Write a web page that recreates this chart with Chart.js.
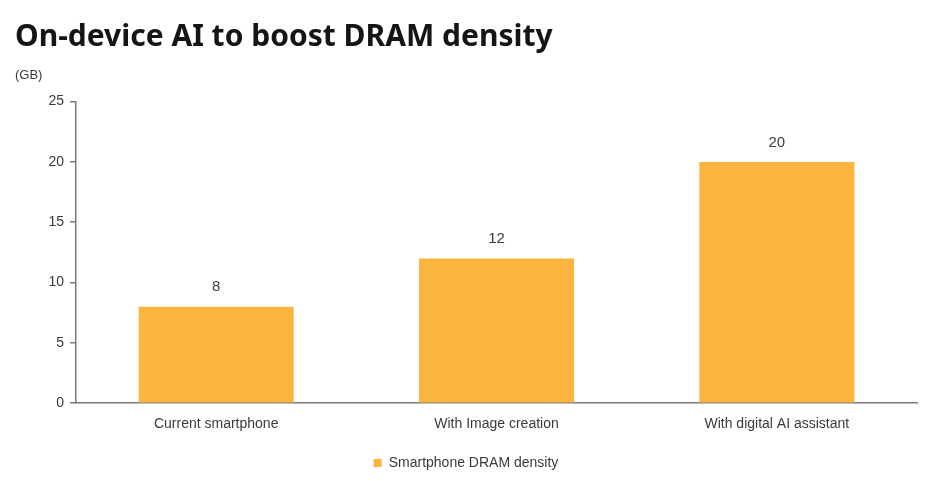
<!DOCTYPE html>
<html>
<head>
<meta charset="utf-8">
<script src="https://cdn.jsdelivr.net/npm/chart.js@4"></script>
<style>
    html, body { margin: 0; padding: 0; background: #fff; }
    #wrap { width: 940px; height: 481px; position: relative; }
</style>
</head>
<body>
<div id="wrap"><canvas id="chart"></canvas></div>
<script>
const categories = ["Current smartphone", "With Image creation", "With digital AI assistant"];
const densityGB = [8, 12, 20];
const seriesName = "Smartphone DRAM density";
const yTicks = [0, 5, 10, 15, 20, 25];

const BAR_COLOR = "#FBB43E";
const AXIS_COLOR = "#7a7a7a";
const TEXT_COLOR = "#3a3a3a";

// value labels above each bar
const barLabels = {
    id: "barLabels",
    afterDatasetsDraw(chart) {
        const ctx = chart.ctx;
        ctx.save();
        ctx.font = "15px 'Liberation Sans', Arial, sans-serif";
        ctx.fillStyle = TEXT_COLOR;
        ctx.textAlign = "center";
        ctx.textBaseline = "bottom";
        chart.getDatasetMeta(0).data.forEach((bar, i) => {
            ctx.fillText(densityGB[i], bar.x, bar.y - 12);
        });
        ctx.restore();
    }
};

new Chart(document.getElementById("chart"), {
    type: "bar",
    data: {
        labels: categories,
        datasets: [{
            label: seriesName,
            data: densityGB,
            backgroundColor: BAR_COLOR,
            categoryPercentage: 1,
            barPercentage: 0.553
        }]
    },
    options: {
        responsive: true,
        maintainAspectRatio: false,
        animation: false,
        layout: { padding: { left: 15, right: 23, top: 0, bottom: 1 } },
        plugins: {
            title: {
                display: true,
                text: "On-device AI to boost DRAM density",
                align: "start",
                color: "#151515",
                font: { family: "'Noto Sans', sans-serif", size: 30, weight: "bold" },
                padding: { top: 19, bottom: 13 }
            },
            subtitle: {
                display: true,
                text: "(GB)",
                align: "start",
                color: TEXT_COLOR,
                font: { family: "'Liberation Sans', Arial, sans-serif", size: 13 },
                padding: { top: 0, bottom: 18 }
            },
            legend: {
                position: "bottom",
                labels: {
                    boxWidth: 8,
                    boxHeight: 8,
                    color: TEXT_COLOR,
                    padding: 10,
                    font: { family: "'Liberation Sans', Arial, sans-serif", size: 14 }
                }
            },
            tooltip: { enabled: false }
        },
        scales: {
            x: {
                grid: { drawOnChartArea: false, drawTicks: false },
                border: { color: AXIS_COLOR, width: 1.5 },
                ticks: {
                    color: TEXT_COLOR,
                    padding: 13,
                    maxRotation: 0,
                    font: { family: "'Liberation Sans', Arial, sans-serif", size: 14 }
                }
            },
            y: {
                min: 0,
                max: 25,
                afterBuildTicks: s => { s.ticks = yTicks.map(v => ({ value: v })); },
                afterFit: s => { s.width = 61; },
                grid: { drawOnChartArea: false, color: AXIS_COLOR, tickLength: 6, lineWidth: 1.5 },
                border: { color: AXIS_COLOR, width: 1.5 },
                ticks: {
                    color: TEXT_COLOR,
                    padding: 6,
                    font: { family: "'Liberation Sans', Arial, sans-serif", size: 14 }
                }
            }
        }
    },
    plugins: [barLabels]
});
</script>
</body>
</html>
